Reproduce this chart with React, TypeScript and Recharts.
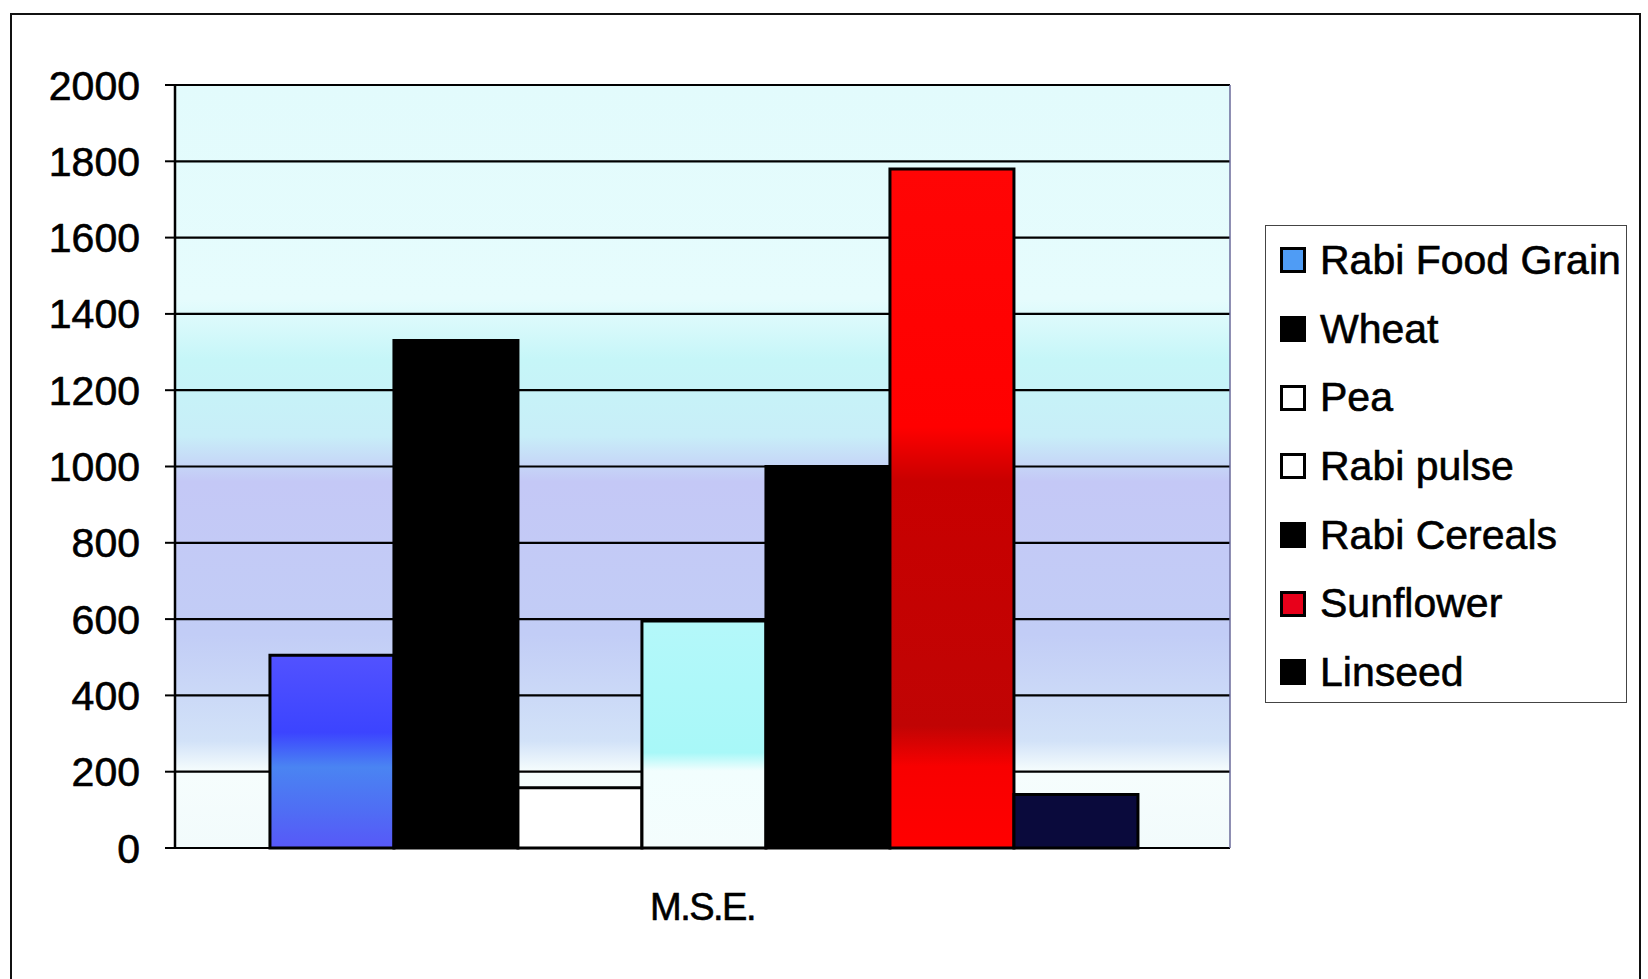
import React from 'react';
import { BarChart, Bar, XAxis, YAxis, CartesianGrid, Legend } from 'recharts';

const categories = ['M.S.E.'];
const rabiFoodGrain = [505];
const wheat = [1330];
const pea = [158];
const rabiPulse = [595];
const rabiCereals = [1000];
const sunflower = [1780];
const linseed = [140];
const yTicks = [0, 200, 400, 600, 800, 1000, 1200, 1400, 1600, 1800, 2000];

const seriesNames = ['Rabi Food Grain', 'Wheat', 'Pea', 'Rabi pulse', 'Rabi Cereals', 'Sunflower', 'Linseed'];
const seriesValues = [rabiFoodGrain, wheat, pea, rabiPulse, rabiCereals, sunflower, linseed];
const barFills = ['url(#gBlue)', '#000000', '#ffffff', 'url(#gPulse)', '#000000', 'url(#gRed)', '#0a0a3c'];
const swatchFills = ['#4f9cf5', '#000000', '#ffffff', '#ffffff', '#000000', '#e8001a', '#000000'];

const data = categories.map((name, i) => {
    const row: Record<string, any> = { name };
    seriesNames.forEach((s, j) => { row[s] = seriesValues[j][i]; });
    return row;
});

const FONT = '"Liberation Sans", Arial, sans-serif';

const LegendBox = () => (
    <div style={{
        width: 362, height: 478, border: '1.5px solid #444', background: '#fff',
        fontFamily: FONT, fontSize: 41, color: '#000', boxSizing: 'border-box',
        WebkitTextStroke: '0.6px #000',
    }}>
        {seriesNames.map((s, i) => (
            <div key={s} style={{ height: 68.7, display: 'flex', alignItems: 'center', paddingLeft: 14 }}>
                <span style={{
                    display: 'inline-block', width: 20, height: 20, background: swatchFills[i],
                    border: '3px solid #000', marginRight: 14, flexShrink: 0,
                }} />
                <span style={{ whiteSpace: 'nowrap', lineHeight: 1 }}>{s}</span>
            </div>
        ))}
    </div>
);

export default function App() {
    return (
        <div style={{ position: 'absolute', left: 0, top: 0, width: 1648, height: 979, background: '#fff', overflow: 'hidden' }}>
            <div style={{
                position: 'absolute', left: 10, top: 13, width: 1631, height: 1020,
                border: '2.5px solid #111', boxSizing: 'border-box',
            }} />
            <div style={{ position: 'absolute', left: 0, top: 0 }}>
                <BarChart
                    width={1648}
                    height={979}
                    data={data}
                    margin={{ top: 85, right: 417, left: 45, bottom: 51 }}
                    barCategoryGap="9%"
                    barGap={0}
                >
                    <defs>
                        <linearGradient id="plotBg" x1="0" y1="0" x2="0" y2="1">
                            <stop offset="0%" stopColor="#e2fbfc" />
                            <stop offset="28%" stopColor="#e6fcfd" />
                            <stop offset="36%" stopColor="#c6f6f8" />
                            <stop offset="46%" stopColor="#c8eef8" />
                            <stop offset="52%" stopColor="#c4c8f6" />
                            <stop offset="72%" stopColor="#c2cdf6" />
                            <stop offset="86%" stopColor="#d2e2f8" />
                            <stop offset="90%" stopColor="#f6fdfd" />
                            <stop offset="100%" stopColor="#f2fbfc" />
                        </linearGradient>
                        <linearGradient id="gBlue" x1="0" y1="0" x2="0" y2="1">
                            <stop offset="0%" stopColor="#5252ff" />
                            <stop offset="40%" stopColor="#3c44ff" />
                            <stop offset="58%" stopColor="#4a84f2" />
                            <stop offset="80%" stopColor="#4f6ef4" />
                            <stop offset="100%" stopColor="#5758f8" />
                        </linearGradient>
                        <linearGradient id="gPulse" x1="0" y1="0" x2="0" y2="1">
                            <stop offset="0%" stopColor="#b4f8fa" />
                            <stop offset="58%" stopColor="#a8f8f8" />
                            <stop offset="66%" stopColor="#f2fefe" />
                            <stop offset="100%" stopColor="#f4fdfd" />
                        </linearGradient>
                        <linearGradient id="gRed" x1="0" y1="0" x2="0" y2="1">
                            <stop offset="0%" stopColor="#ff0505" />
                            <stop offset="38%" stopColor="#ff0000" />
                            <stop offset="46%" stopColor="#c80000" />
                            <stop offset="82%" stopColor="#c00404" />
                            <stop offset="88%" stopColor="#f80000" />
                            <stop offset="100%" stopColor="#ff0000" />
                        </linearGradient>
                    </defs>
                    <CartesianGrid vertical={false} stroke="#000" strokeWidth={2.2} fill="url(#plotBg)" fillOpacity={1} />
                    <XAxis
                        dataKey="name"
                        axisLine={{ stroke: '#000', strokeWidth: 2 }}
                        tickLine={false}
                        tickSize={0}
                        tickMargin={45}
                        height={80}
                        tick={{ fontFamily: FONT, fontSize: 38, fill: '#000', stroke: '#000', strokeWidth: 0.6, letterSpacing: -1.5 }}
                    />
                    <YAxis
                        domain={[0, 2000]}
                        ticks={yTicks}
                        width={130}
                        axisLine={{ stroke: '#000', strokeWidth: 2.5 }}
                        tickLine={{ stroke: '#000', strokeWidth: 2 }}
                        tickSize={10}
                        tickMargin={25}
                        tick={{ fontFamily: FONT, fontSize: 41, fill: '#000', stroke: '#000', strokeWidth: 0.6 }}
                    />
                    <YAxis
                        yAxisId="r"
                        orientation="right"
                        width={1}
                        tick={false}
                        tickLine={false}
                        axisLine={{ stroke: '#6a6a9a', strokeWidth: 1.5 }}
                    />
                    <Legend
                        layout="vertical"
                        align="center"
                        verticalAlign="middle"
                        wrapperStyle={{ left: 1265, top: 225, width: 362, height: 478 }}
                        content={() => <LegendBox />}
                    />
                    {seriesNames.map((s, i) => (
                        <Bar
                            key={s}
                            dataKey={s}
                            fill={barFills[i]}
                            stroke="#000"
                            strokeWidth={3}
                            isAnimationActive={false}
                        />
                    ))}
                </BarChart>
            </div>
        </div>
    );
}
